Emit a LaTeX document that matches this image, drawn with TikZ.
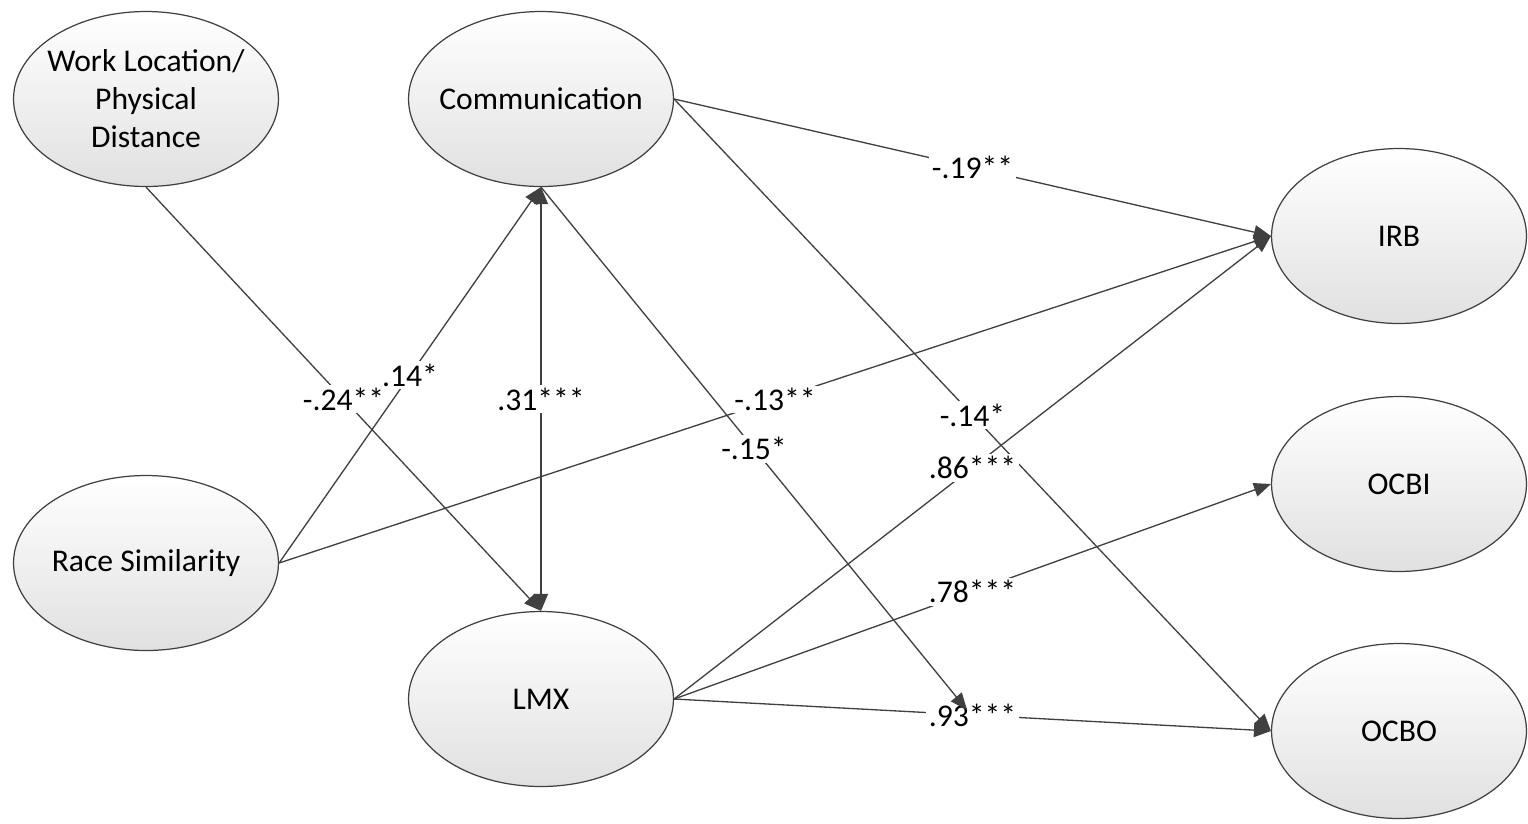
\documentclass[tikz,border=0pt]{standalone}
\usepackage{fontspec}
\setmainfont{Carlito}
\usepackage{tikz}
\usetikzlibrary{arrows.meta,shapes.geometric}

\begin{document}
\begin{tikzpicture}[
  x=0.02cm, y=-0.02cm,
  font=\fontsize{18}{21.6}\selectfont,
  latent/.style={ellipse, draw=black!75, line width=0.7pt, top color=white, bottom color=black!12,
    align=center, inner xsep=-5pt, inner ysep=0pt, minimum width=5.3cm, minimum height=3.5cm},
  outcome/.style={latent, minimum width=5.1cm},
  effect/.style={draw=black!75, line width=0.75pt, -{Triangle[length=3.4mm, width=2.8mm]}},
  coef/.style={fill=white, inner sep=1.5pt, pos=0.5}]
\useasboundingbox (0,0) rectangle (1528,823);
% --- predictors ---
\node[latent] (wl) at (146,99) {Work Location/\\Physical\\Distance};
\node[latent] (race) at (146,563) {Race Similarity};
% --- mediators ---
\node[latent] (comm) at (541,99) {Communication};
\node[latent] (lmx) at (541,699) {LMX};
% --- outcomes ---
\node[outcome] (irb) at (1399,236) {IRB};
\node[outcome] (ocbi) at (1399,484) {OCBI};
\node[outcome] (ocbo) at (1399,731) {OCBO};
\coordinate (mod) at (967,710);
% --- paths ---
\draw[effect] (wl.south) -- node[coef] {-.24**} (lmx.north);
\draw[effect] (race.east) -- node[coef] {.14*} (comm.south);
\draw[effect, {Triangle[length=3.4mm, width=2.8mm]}-{Triangle[length=3.4mm, width=2.8mm]}] (comm.south) -- node[coef] {.31***} (lmx.north);
\draw[effect] (race.east) -- node[coef] {-.13**} (irb.west);
\draw[effect] (comm.east) -- node[coef] {-.19**} (irb.west);
\draw[effect] (comm.east) -- node[coef] {-.14*} (ocbo.west);
\draw[effect] (lmx.east) -- node[coef] {.86***} (irb.west);
\draw[effect] (lmx.east) -- node[coef] {.78***} (ocbi.west);
\draw[effect] (lmx.east) -- node[coef] {.93***} (ocbo.west);
\draw[effect] (comm.south) -- node[coef] {-.15*} (mod);
\end{tikzpicture}
\end{document}
